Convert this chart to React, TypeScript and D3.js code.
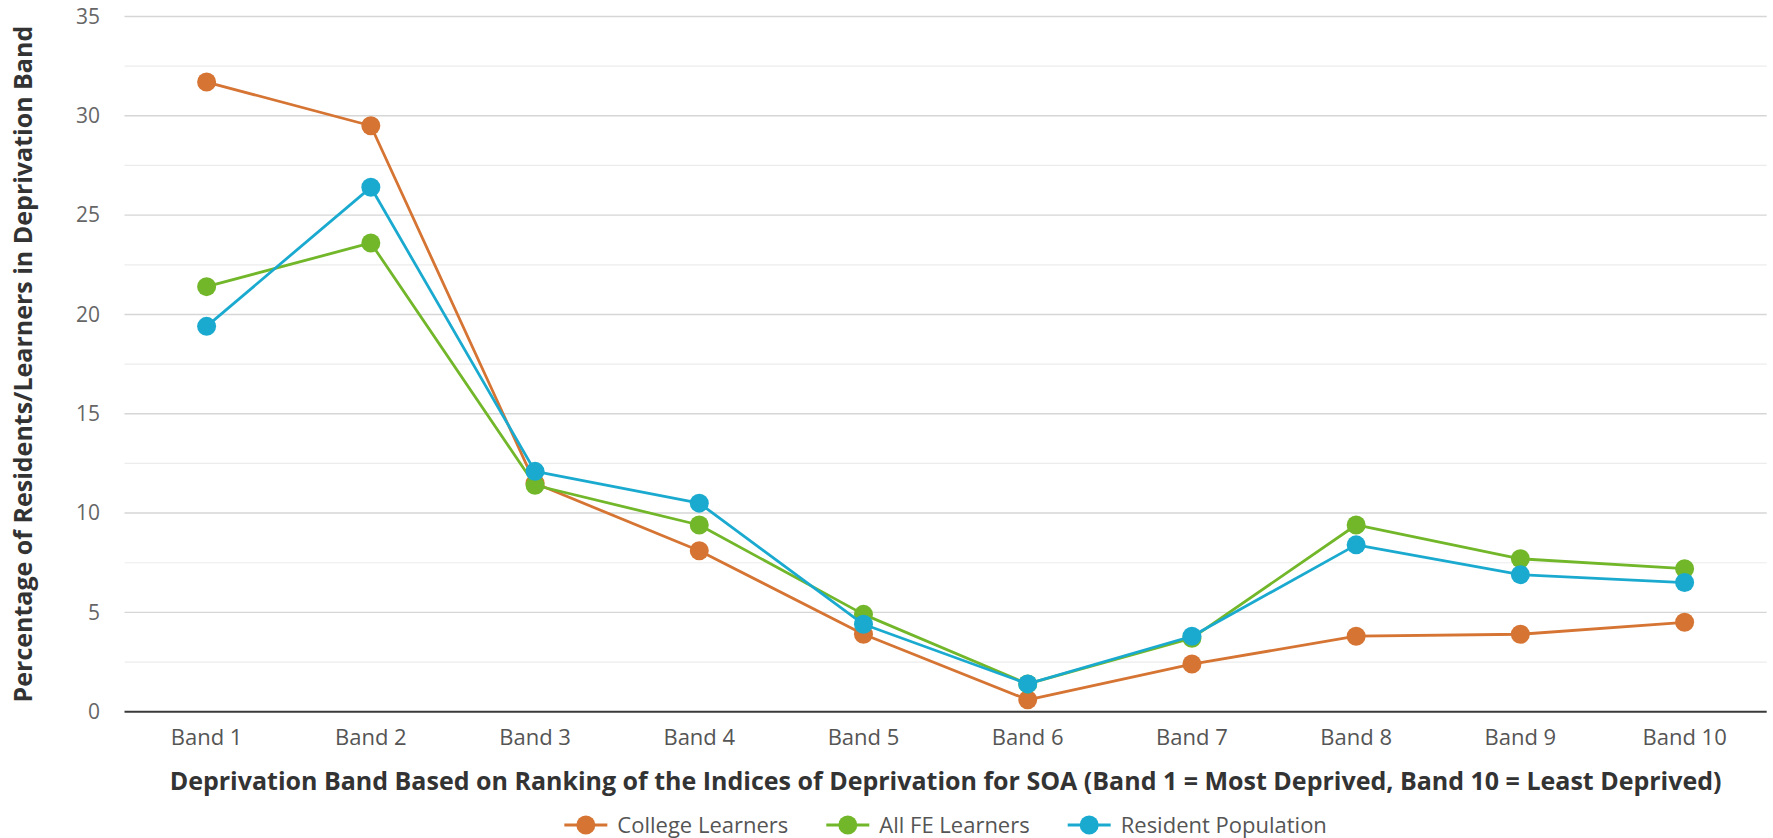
import React, { useEffect, useRef } from "react";
import * as d3 from "d3";

// Values
const bands = ["Band 1", "Band 2", "Band 3", "Band 4", "Band 5", "Band 6", "Band 7", "Band 8", "Band 9", "Band 10"];
const collegeLearners = [31.7, 29.5, 11.5, 8.1, 3.9, 0.6, 2.4, 3.8, 3.9, 4.5];
const allFeLearners = [21.4, 23.6, 11.4, 9.4, 4.9, 1.4, 3.7, 9.4, 7.7, 7.2];
const residentPopulation = [19.4, 26.4, 12.1, 10.5, 4.4, 1.4, 3.8, 8.4, 6.9, 6.5];
const seriesNames = ["College Learners", "All FE Learners", "Resident Population"];
const seriesColors = ["#d57433", "#72b72a", "#1baacf"];
const yTicks = [0, 5, 10, 15, 20, 25, 30, 35];

const App: React.FC = () => {
  const svgRef = useRef<SVGSVGElement>(null);

  useEffect(() => {
    if (!svgRef.current) return;
    const width = 1773;
    const height = 838;
    const plot = { left: 124.5, right: 1766.7, top: 16.5, bottom: 711.7 };
    const font = "'Open Sans', sans-serif";

    const svg = d3.select(svgRef.current);
    svg.selectAll("*").remove();
    svg.attr("width", width).attr("height", height);

    const x = d3.scalePoint<string>().domain(bands).range([plot.left, plot.right]).padding(0.5);
    const y = d3.scaleLinear().domain([0, 35]).range([plot.bottom, plot.top]);

    // minor gridlines
    const minor = d3.range(2.5, 35, 5);
    svg
      .append("g")
      .selectAll("line")
      .data(minor)
      .join("line")
      .attr("x1", plot.left)
      .attr("x2", plot.right)
      .attr("y1", (d) => y(d))
      .attr("y2", (d) => y(d))
      .attr("stroke", "#ececec")
      .attr("stroke-width", 1.2);

    // major gridlines
    svg
      .append("g")
      .selectAll("line")
      .data(yTicks.filter((t) => t > 0))
      .join("line")
      .attr("x1", plot.left)
      .attr("x2", plot.right)
      .attr("y1", (d) => y(d))
      .attr("y2", (d) => y(d))
      .attr("stroke", "#d6d6d6")
      .attr("stroke-width", 1.4);

    // zero line
    svg
      .append("line")
      .attr("x1", plot.left)
      .attr("x2", plot.right)
      .attr("y1", y(0))
      .attr("y2", y(0))
      .attr("stroke", "#3a3a3a")
      .attr("stroke-width", 2);

    // y tick labels
    svg
      .append("g")
      .selectAll("text")
      .data(yTicks)
      .join("text")
      .attr("x", 100)
      .attr("y", (d) => y(d))
      .attr("dy", "0.35em")
      .attr("text-anchor", "end")
      .attr("font-family", font)
      .attr("font-size", 21)
      .attr("fill", "#666")
      .text((d) => d);

    // x tick labels
    svg
      .append("g")
      .selectAll("text")
      .data(bands)
      .join("text")
      .attr("x", (d) => x(d) as number)
      .attr("y", 745)
      .attr("text-anchor", "middle")
      .attr("font-family", font)
      .attr("font-size", 22)
      .attr("fill", "#555")
      .text((d) => d);

    // axis titles
    svg
      .append("text")
      .attr("x", (plot.left + plot.right) / 2)
      .attr("y", 790)
      .attr("text-anchor", "middle")
      .attr("font-family", font)
      .attr("font-size", 25)
      .attr("font-weight", 700)
      .attr("fill", "#333")
      .text("Deprivation Band Based on Ranking of the Indices of Deprivation for SOA (Band 1 = Most Deprived, Band 10 = Least Deprived)");

    svg
      .append("text")
      .attr("transform", `translate(32, ${(plot.top + plot.bottom) / 2}) rotate(-90)`)
      .attr("text-anchor", "middle")
      .attr("font-family", font)
      .attr("font-size", 25)
      .attr("font-weight", 700)
      .attr("fill", "#333")
      .text("Percentage of Residents/Learners in Deprivation Band");

    // series
    const allSeries = [collegeLearners, allFeLearners, residentPopulation];
    const line = d3
      .line<number>()
      .x((_, i) => x(bands[i]) as number)
      .y((d) => y(d));

    allSeries.forEach((values, si) => {
      const g = svg.append("g");
      g.append("path")
        .datum(values)
        .attr("d", line)
        .attr("fill", "none")
        .attr("stroke", seriesColors[si])
        .attr("stroke-width", 2.8)
        .attr("stroke-linejoin", "round");
      g.selectAll("circle")
        .data(values)
        .join("circle")
        .attr("cx", (_, i) => x(bands[i]) as number)
        .attr("cy", (d) => y(d))
        .attr("r", 9.5)
        .attr("fill", seriesColors[si]);
    });

    // legend
    const legend = svg.append("g");
    const legendY = 825;
    const items: { g: d3.Selection<SVGGElement, unknown, null, undefined>; w: number }[] = [];
    seriesNames.forEach((name, i) => {
      const g = legend.append("g");
      g.append("line")
        .attr("x1", 0)
        .attr("x2", 43)
        .attr("y1", 0)
        .attr("y2", 0)
        .attr("stroke", seriesColors[i])
        .attr("stroke-width", 3);
      g.append("circle").attr("cx", 21.5).attr("cy", 0).attr("r", 9.5).attr("fill", seriesColors[i]);
      const t = g
        .append("text")
        .attr("x", 53)
        .attr("y", 0)
        .attr("dy", "0.35em")
        .attr("font-family", font)
        .attr("font-size", 22)
        .attr("fill", "#555")
        .text(name);
      const w = 53 + (t.node() as SVGTextElement).getComputedTextLength();
      items.push({ g, w });
    });
    const gap = 38;
    const total = d3.sum(items, (d) => d.w) + gap * (items.length - 1);
    let cursor = (plot.left + plot.right) / 2 - total / 2;
    items.forEach((it) => {
      it.g.attr("transform", `translate(${cursor}, ${legendY})`);
      cursor += it.w + gap;
    });
  }, []);

  return (
    <div style={{ position: "absolute", left: 0, top: 0, background: "#fff" }}>
      <svg ref={svgRef} style={{ display: "block" }} />
    </div>
  );
};

export default App;
